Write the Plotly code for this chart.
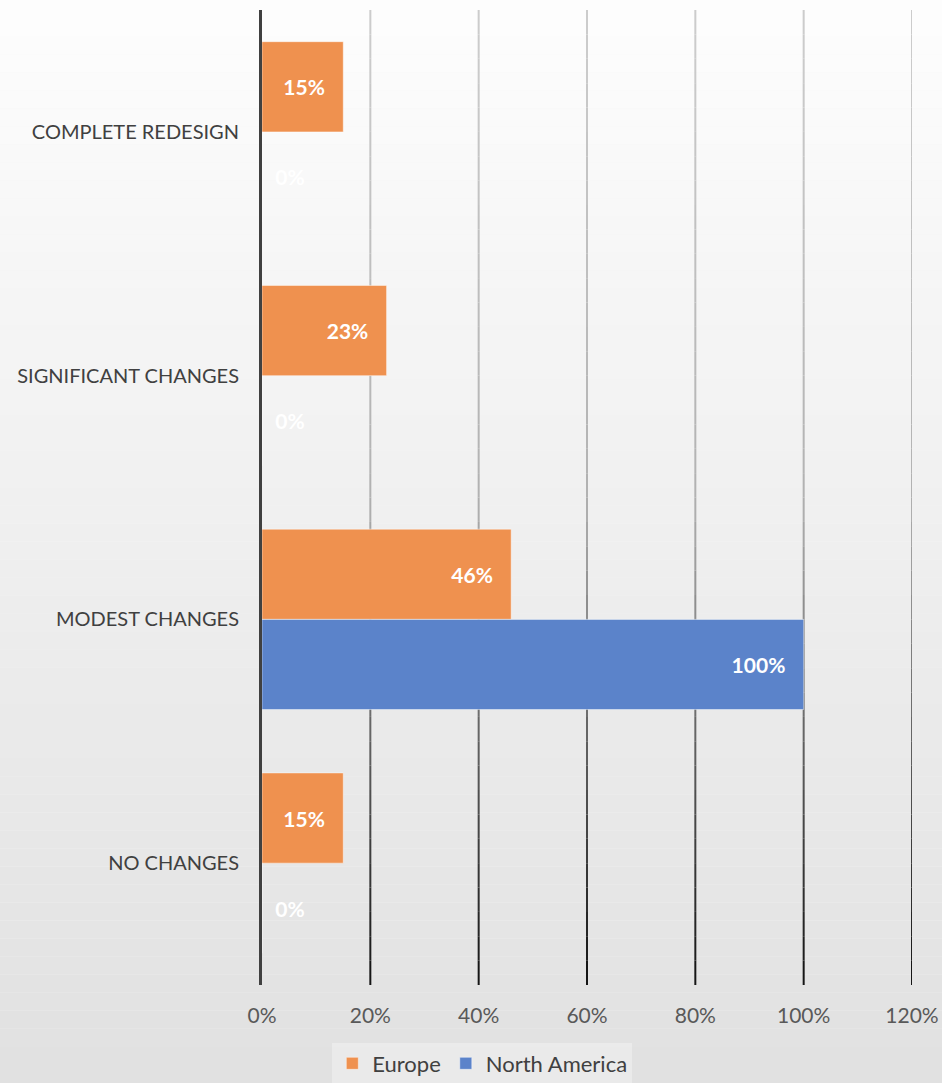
import plotly.graph_objects as go

# Datos (porcentaje de respuestas)
CATEGORIES = ["COMPLETE REDESIGN", "SIGNIFICANT CHANGES", "MODEST CHANGES", "NO CHANGES"]
EUROPE = [15, 23, 46, 15]
NORTH_AMERICA = [0, 0, 100, 0]
X_TICKS = [0, 20, 40, 60, 80, 100, 120]

ORANGE = "#EF914F"
BLUE = "#5B83CA"
FONT = "Lato"
NBSP = "\u00a0"

W, H = 942, 1083
M_L, M_R, M_T, M_B = 262, 30, 10, 98
PLOT_H = H - M_T - M_B


def grey(v):
    v = int(round(v))
    return f"rgb({v},{v},{v})"


def label(v):
    # las etiquetas en cero van fuera de la barra, el resto dentro con margen a la derecha
    return NBSP * 2 + "0%" if v == 0 else f"{v}%" + NBSP * 3


def bar_trace(name, values, color):
    return go.Bar(
        name=name,
        y=CATEGORIES,
        x=values,
        orientation="h",
        marker=dict(color=color, line=dict(color="rgba(255,255,255,0.45)", width=1)),
        text=[label(v) for v in values],
        textposition=["outside" if v == 0 else "inside" for v in values],
        insidetextanchor="end",
        textfont=dict(family=FONT, size=21, color="white", weight="bold"),
        outsidetextfont=dict(family=FONT, size=21, color="white", weight="bold"),
        cliponaxis=False,
    )


fig = go.Figure([bar_trace("Europe", EUROPE, ORANGE), bar_trace("North America", NORTH_AMERICA, BLUE)])

shapes = []
# fondo degradado (blanco arriba, gris claro abajo)
y_top = 1 + M_T / PLOT_H
y_bot = -M_B / PLOT_H
n_bg = 60
for i in range(n_bg):
    f = i / (n_bg - 1)
    y0 = y_top - (y_top - y_bot) * i / n_bg
    y1 = y_top - (y_top - y_bot) * (i + 1) / n_bg
    shapes.append(dict(type="rect", xref="paper", yref="paper", x0=-1, x1=2, y0=y1, y1=y0,
                       fillcolor=grey(253 - 28 * f), line=dict(width=0), layer="below"))

# líneas de cuadrícula con degradado (claras arriba, oscuras abajo)
n_seg = 40
for t in X_TICKS[1:]:
    for i in range(n_seg):
        f = (i + 0.5) / n_seg
        v = 205 - 55 * f if f < 0.5 else 178 - 320 * (f - 0.5)
        shapes.append(dict(type="line", xref="x", yref="paper", x0=t, x1=t,
                           y0=1 - i / n_seg, y1=1 - (i + 1) / n_seg,
                           line=dict(color=grey(v), width=2), layer="below"))

fig.update_layout(
    width=W,
    height=H,
    margin=dict(l=M_L, r=M_R, t=M_T, b=M_B),
    barmode="group",
    bargap=0.26,
    bargroupgap=0,
    paper_bgcolor="#f4f4f4",
    plot_bgcolor="rgba(0,0,0,0)",
    font=dict(family=FONT, size=20, color="#404040"),
    shapes=shapes,
    showlegend=True,
    legend=dict(
        orientation="h",
        xref="container",
        yref="container",
        x=0.512,
        y=0.018,
        xanchor="center",
        yanchor="middle",
        bgcolor="rgba(255,255,255,0.3)",
        font=dict(family=FONT, size=22, color="#404040"),
        itemwidth=30,
    ),
)

fig.update_xaxes(
    range=[0, 120],
    tickvals=X_TICKS,
    ticktext=[f"{t}%" for t in X_TICKS],
    showgrid=False,
    zeroline=False,
    ticks="",
    ticklabelstandoff=16,
    automargin=False,
    tickfont=dict(family=FONT, size=21, color="#595959"),
)
fig.update_yaxes(
    categoryorder="array",
    categoryarray=CATEGORIES,
    autorange="reversed",
    showgrid=False,
    showline=True,
    linecolor="#404040",
    linewidth=3,
    ticks="",
    ticklabelstandoff=16,
    automargin=False,
    tickfont=dict(family=FONT, size=20, color="#404040"),
)

fig.write_html(
    "out.html",
    config={"displayModeBar": False},
    post_script="document.body.style.margin = '0';",
)
